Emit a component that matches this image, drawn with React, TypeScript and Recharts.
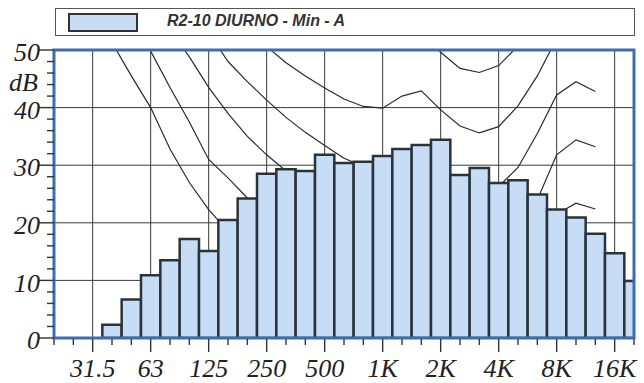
import { ComposedChart, Bar, Line, XAxis, YAxis, CartesianGrid, ReferenceArea } from 'recharts';

// third-octave bands, 20 Hz .. 20 kHz
const bands = [
  '20', '25', '31.5', '40', '50', '63', '80', '100', '125', '160', '200', '250', '315', '400', '500',
  '630', '800', '1K', '1.25K', '1.6K', '2K', '2.5K', '3.15K', '4K', '5K', '6.3K', '8K', '10K', '12.5K',
  '16K', '20K',
];

// measured level, dB
const levels = [
  null, null, null, 2.3, 6.7, 10.9, 13.5, 17.2, 15.1, 20.5, 24.2, 28.5, 29.3, 29.0, 31.8,
  30.4, 30.6, 31.6, 32.8, 33.5, 34.4, 28.3, 29.5, 26.9, 27.4, 24.9, 22.3, 20.9, 18.1,
  14.7, 9.9,
];

// equal loudness curves behind the bars (hidden parts estimated)
const phon0 = [
  78, 68, 58, 51.3, 45.5, 40, 32.8, 27, 22.3, 18.5, 14.4, 11.4, 8.6, 6.2, 4.4,
  3, 2.2, 2.4, 3.5, 1.7, 1, 0.5, 0.5, 0.5, 1.5, 6, 12.6, 13.9, 12.3, null, null,
];
const phon10 = [
  84, 76, 68, 61, 55, 49.8, 43.5, 37.5, 31, 27.8, 24.3, 21.3, 18, 15, 13,
  11.2, 10, 10, 11.3, 10.4, 7.3, 4.5, 3, 3.8, 7.5, 14.4, 21.5, 23.4, 22.4, null, null,
];
const phon20 = [
  90, 83, 76, 70, 64, 58.6, 53.5, 48.8, 43.5, 39, 35, 31.8, 29, 26.5, 24,
  22, 20.5, 20, 21, 20, 17, 14.5, 13, 13.5, 16.5, 24, 31.8, 34.4, 33.2, null, null,
];
const phon30 = [
  97, 90, 83, 77, 71, 66.5, 62, 57.5, 53, 48, 44.5, 41.3, 38.3, 35.7, 33.4,
  31.2, 29.8, 29.5, 30.5, 29, 26, 25, 24, 26.3, 29.6, 35.5, 42.2, 44.5, 42.8, null, null,
];
const phon40 = [
  103, 96, 90, 84, 78, 72.5, 67, 62, 58, 54.5, 53.5, 50.6, 47.8, 45.5, 43.4,
  41.5, 40.2, 39.9, 42, 42.9, 39.6, 36.8, 35.6, 36.7, 40.3, 45.5, 52, 56, 55, null, null,
];
const phon50 = [
  108, 102, 96, 91, 86, 81, 76.5, 72, 68, 64.5, 61.5, 59, 57, 55, 53.5,
  52.5, 51.5, 51, 52.5, 53, 49.6, 46.8, 46.1, 47.3, 50.7, 55, 61, 65, 64, null, null,
];

const xLabels = ['31.5', '63', '125', '250', '500', '1K', '2K', '4K', '8K', '16K'];
const yLabels = [0, 10, 20, 30, 40, 50];
const yMinor = [0, 2, 4, 6, 8, 10, 12, 14, 16, 18, 20, 22, 24, 26, 28, 30, 32, 34, 36, 38, 40, 42, 44, 46, 48, 50];
const gridDb = [10, 20, 30, 40];

const curves = [phon0, phon10, phon20, phon30, phon40, phon50];

const data = bands.map((band, i) => {
  const row: Record<string, any> = { i, band, level: levels[i] };
  curves.forEach((c, k) => {
    row[`c${k}`] = c[i];
  });
  return row;
});

const majorIdx = xLabels.map((l) => bands.indexOf(l));
const allIdx = bands.map((_, i) => i);

const labelStyle = {
  fontFamily: "'Liberation Serif', 'Times New Roman', serif",
  fontStyle: 'italic',
  fontSize: 26,
  fill: '#222',
};
const BAR_FILL = '#c6ddf5';
const INK = '#2a333d';

function XTick(props: any) {
  const { x, y, payload } = props;
  const idx = payload.value;
  const label = xLabels.find((l) => bands.indexOf(l) === idx);
  return (
    <g>
      <line x1={x} x2={x} y1={y + 1} y2={y + (label ? 14 : 7)} stroke="#333" strokeWidth={1.4} />
      {label && (
        <text x={x} y={y + 39} textAnchor="middle" style={labelStyle}>
          {label}
        </text>
      )}
    </g>
  );
}

function YTick(props: any) {
  const { x, y, payload } = props;
  const v = payload.value;
  if (v === 45) {
    return (
      <text x={x - 16} y={y + 3} dy="0.35em" textAnchor="end" style={labelStyle}>
        dB
      </text>
    );
  }
  const major = yLabels.includes(v);
  return (
    <g>
      <line x1={x - (major ? 15 : 7)} x2={x} y1={y} y2={y} stroke="#333" strokeWidth={1.4} />
      {major && (
        <text x={x - 14} y={y + 2} dy="0.35em" textAnchor="end" style={labelStyle}>
          {v}
        </text>
      )}
    </g>
  );
}

export default function App() {
  return (
    <div style={{ position: 'relative', width: 644, height: 383, background: '#fff' }}>
      <style>{'body{margin:0}'}</style>
      <div
        style={{
          position: 'absolute',
          left: 55,
          top: 8,
          width: 578,
          height: 26,
          border: '1.5px solid #555',
          background: '#fff',
          zIndex: 2,
        }}
      >
        <div
          style={{
            position: 'absolute',
            left: 12,
            top: 4,
            width: 66,
            height: 15,
            background: BAR_FILL,
            border: '2px solid #333',
          }}
        />
        <div
          style={{
            position: 'absolute',
            left: 111,
            top: 3,
            fontFamily: "'Liberation Sans', Arial, sans-serif",
            fontWeight: 'bold',
            fontStyle: 'italic',
            fontSize: 16,
            color: '#333',
            whiteSpace: 'nowrap',
          }}
        >
          R2-10 DIURNO - Min - A
        </div>
      </div>
      <ComposedChart width={644} height={383} data={data} margin={{ top: 50, right: 10, bottom: 0, left: 0 }}>
        <CartesianGrid horizontalValues={gridDb} verticalValues={majorIdx} stroke="#3a3a3a" strokeWidth={1} />
        <XAxis
          dataKey="i"
          type="number"
          domain={[0, 30]}
          ticks={allIdx}
          interval={0}
          allowDataOverflow
          axisLine={false}
          tickLine={false}
          tickSize={0}
          tickMargin={0}
          height={45}
          tick={<XTick />}
        />
        <YAxis
          type="number"
          domain={[0, 50]}
          ticks={[...yMinor, 45]}
          interval={0}
          allowDataOverflow
          axisLine={false}
          tickLine={false}
          tickSize={0}
          tickMargin={0}
          width={54}
          tick={<YTick />}
        />
        {curves.map((_, k) => (
          <Line
            key={k}
            dataKey={`c${k}`}
            type="linear"
            stroke="#2a2a2a"
            strokeWidth={1.2}
            dot={false}
            isAnimationActive={false}
            zIndex={250}
          />
        ))}
        <Bar dataKey="level" fill={BAR_FILL} stroke={INK} strokeWidth={2.5} barSize={19.33} isAnimationActive={false} />
        <ReferenceArea
          x1={0}
          x2={30}
          y1={0}
          y2={50}
          fill="none"
          stroke="#3d6cb4"
          strokeWidth={3}
          zIndex={600}
        />
      </ComposedChart>
    </div>
  );
}
